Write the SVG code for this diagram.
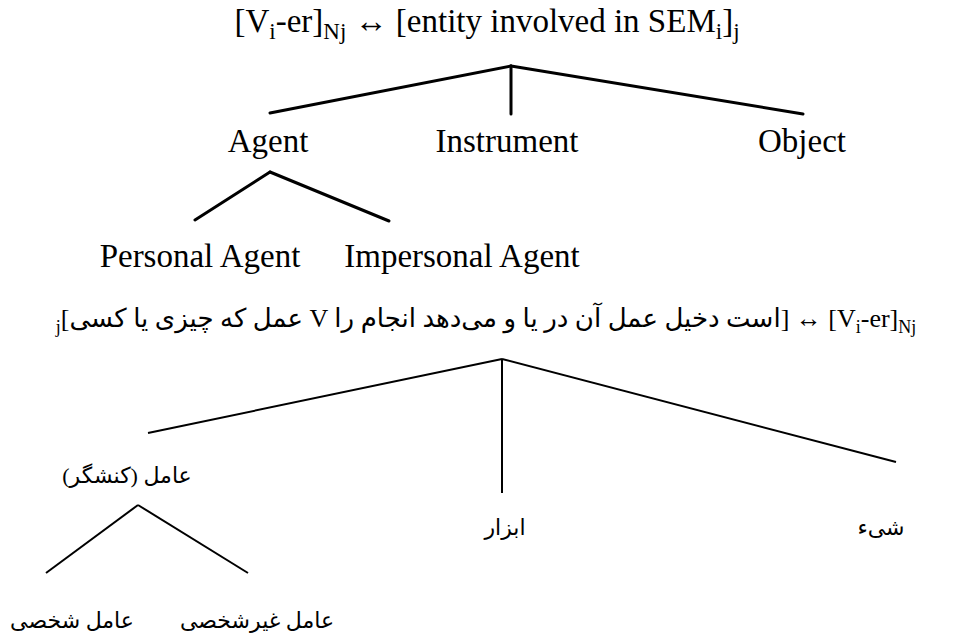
<svg xmlns="http://www.w3.org/2000/svg" width="972" height="639" viewBox="0 0 972 639">
<style>
.en{font-family:"Liberation Serif","Times New Roman",serif;font-size:33px;fill:#000}
.fa{font-family:"Liberation Serif","DejaVu Sans","Noto Sans",serif;font-size:22px;fill:#000}
.fat{font-family:"Liberation Serif","DejaVu Sans","Noto Sans",serif;font-size:26px;fill:#000}
.e{stroke:#000;stroke-width:3;fill:none;stroke-linecap:round}
.p{stroke:#000;stroke-width:2;fill:none}
</style>
<rect width="972" height="639" fill="#fff"/>
<g id="title-en">
<text class="en" x="487" y="32" text-anchor="middle">[V<tspan font-size="23" dy="7">i</tspan><tspan dy="-7">-er]</tspan><tspan font-size="23" dy="7">Nj</tspan><tspan dy="-7"> ↔ [entity involved in SEM</tspan><tspan font-size="23" dy="7">i</tspan><tspan dy="-7">]</tspan><tspan font-size="23" dy="7">j</tspan></text>
</g>
<g id="connectors">
<line class="e" x1="511" y1="66" x2="270" y2="113"/>
<line class="e" x1="511" y1="66" x2="511" y2="114"/>
<line class="e" x1="511" y1="66" x2="803" y2="114"/>
<line class="e" x1="270" y1="172" x2="195" y2="220"/>
<line class="e" x1="270" y1="172" x2="389" y2="221"/>
<line class="p" x1="502" y1="359" x2="148" y2="433"/>
<line class="p" x1="502" y1="359" x2="502" y2="493"/>
<line class="p" x1="502" y1="359" x2="896" y2="462"/>
<line class="p" x1="138" y1="505" x2="46" y2="573"/>
<line class="p" x1="138" y1="505" x2="248" y2="573"/>
</g>
<g id="agent"><text class="en" x="268" y="152" text-anchor="middle">Agent</text></g>
<g id="instrument"><text class="en" x="507" y="152" text-anchor="middle">Instrument</text></g>
<g id="object"><text class="en" x="802" y="152" text-anchor="middle">Object</text></g>
<g id="personal-agent"><text class="en" x="200" y="267" text-anchor="middle">Personal Agent</text></g>
<g id="impersonal-agent"><text class="en" x="462" y="267" text-anchor="middle">Impersonal Agent</text></g>
<g id="title-fa">
<text class="fat" x="486" y="327" text-anchor="middle" direction="ltr"><tspan font-size="18" dy="6">j</tspan><tspan dy="-6">[کسی&#x200E; یا&#x200E; چیزی&#x200E; که&#x200E; عمل&#x200E; V را&#x200E; انجام&#x200E; می‌دهد&#x200E; و&#x200E; یا&#x200E; در&#x200E; آن&#x200E; عمل&#x200E; دخیل&#x200E; است&#x200E;] ↔ [V</tspan><tspan font-size="18" dy="6">i</tspan><tspan dy="-6">-er]</tspan><tspan font-size="18" dy="6">Nj</tspan></text>
</g>
<g id="fa-agent"><text class="fa" x="127" y="483" text-anchor="middle" direction="rtl">عامل (کنشگر)</text></g>
<g id="fa-instrument"><text class="fa" x="505" y="535" text-anchor="middle" direction="rtl">ابزار</text></g>
<g id="fa-object"><text class="fa" x="881" y="535" text-anchor="middle" direction="rtl">شیء</text></g>
<g id="fa-personal"><text class="fa" x="72" y="628" text-anchor="middle" direction="rtl">عامل شخصی</text></g>
<g id="fa-impersonal"><text class="fa" x="257" y="628" text-anchor="middle" direction="rtl">عامل غیرشخصی</text></g>
</svg>
